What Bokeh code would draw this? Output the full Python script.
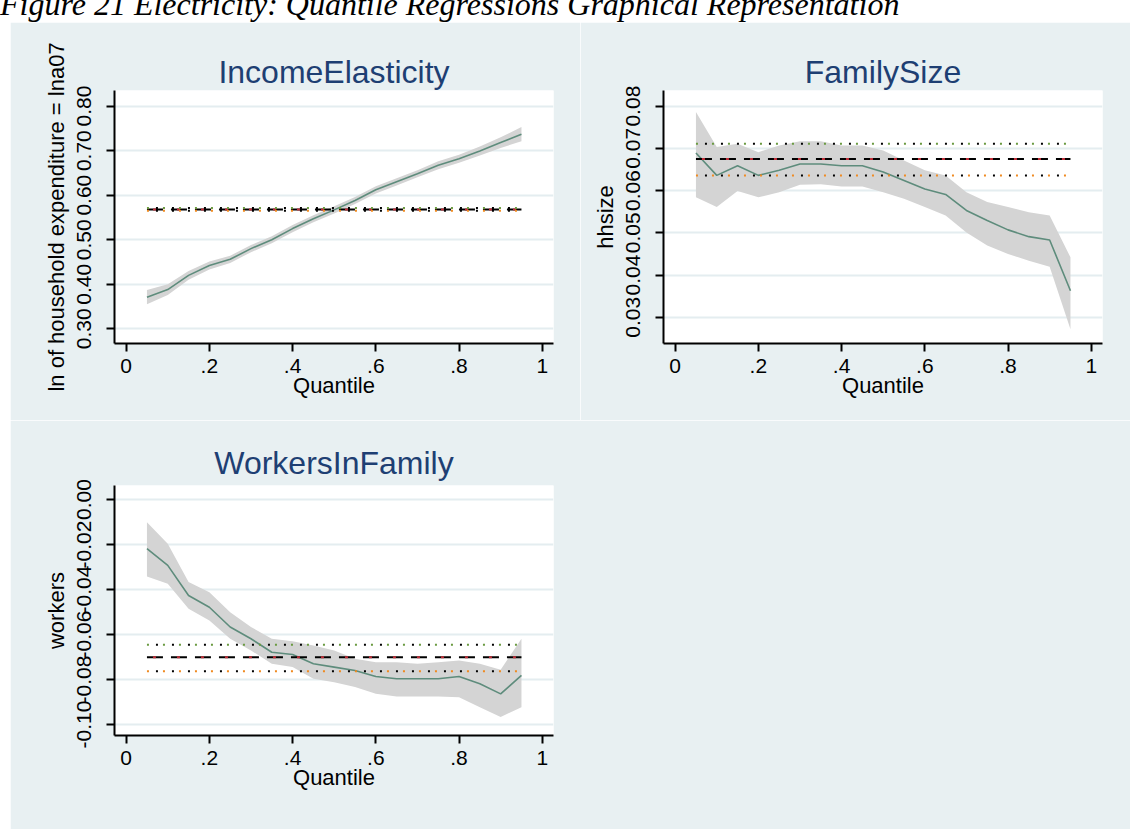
from bokeh.plotting import figure
from bokeh.layouts import column, row
from bokeh.models import Range1d, FixedTicker, Div, Spacer
from bokeh.embed import file_html
from bokeh.resources import INLINE

# ---------------- data ----------------
quantiles = [0.05, 0.10, 0.15, 0.20, 0.25, 0.30, 0.35, 0.40, 0.45, 0.50,
             0.55, 0.60, 0.65, 0.70, 0.75, 0.80, 0.85, 0.90, 0.95]

income_coef = [0.371, 0.388, 0.420, 0.442, 0.456, 0.480, 0.500, 0.525, 0.547, 0.567,
               0.588, 0.612, 0.630, 0.648, 0.667, 0.682, 0.699, 0.718, 0.737]
income_lo = [0.355, 0.376, 0.410, 0.433, 0.448, 0.472, 0.492, 0.517, 0.539, 0.559,
             0.580, 0.604, 0.622, 0.640, 0.658, 0.673, 0.689, 0.706, 0.721]
income_hi = [0.387, 0.400, 0.430, 0.451, 0.464, 0.488, 0.508, 0.533, 0.555, 0.575,
             0.596, 0.620, 0.638, 0.656, 0.676, 0.691, 0.709, 0.730, 0.753]
income_ols = [0.568, 0.565, 0.571]  # estimate, lower, upper

family_coef = [0.0689, 0.0636, 0.0659, 0.0636, 0.0648, 0.0663, 0.0663, 0.0659, 0.0659, 0.0644,
               0.0624, 0.0604, 0.0591, 0.0553, 0.0529, 0.0507, 0.0491, 0.0483, 0.0363]
family_lo = [0.0584, 0.0561, 0.0599, 0.0584, 0.0596, 0.0614, 0.0615, 0.0610, 0.0610, 0.0596,
             0.0581, 0.0561, 0.0541, 0.0501, 0.0470, 0.0450, 0.0434, 0.0420, 0.0272]
family_hi = [0.0786, 0.0703, 0.0711, 0.0691, 0.0707, 0.0717, 0.0717, 0.0707, 0.0707, 0.0695,
             0.0671, 0.0648, 0.0636, 0.0596, 0.0573, 0.0561, 0.0549, 0.0541, 0.0442]
family_ols = [0.0675, 0.0636, 0.0711]

workers_coef = [-0.0219, -0.0293, -0.0427, -0.0479, -0.0567, -0.0619, -0.0679, -0.0689, -0.0730, -0.0745,
                -0.0760, -0.0787, -0.0797, -0.0797, -0.0797, -0.0787, -0.0819, -0.0864, -0.0782]
workers_lo = [-0.0342, -0.0375, -0.0486, -0.0538, -0.0619, -0.0671, -0.0730, -0.0745, -0.0797, -0.0812,
              -0.0834, -0.0864, -0.0876, -0.0876, -0.0876, -0.0879, -0.0923, -0.0967, -0.0923]
workers_hi = [-0.0101, -0.0197, -0.0367, -0.0412, -0.0501, -0.0567, -0.0619, -0.0630, -0.0649, -0.0671,
              -0.0708, -0.0723, -0.0723, -0.0730, -0.0723, -0.0716, -0.0730, -0.0757, -0.0619]
workers_ols = [-0.0701, -0.0763, -0.0646]

x_tick_values = [0, 0.2, 0.4, 0.6, 0.8, 1]
x_tick_labels = ["0", ".2", ".4", ".6", ".8", "1"]

income_ticks = [0.3, 0.4, 0.5, 0.6, 0.7, 0.8]
income_tick_labels = ["0.30", "0.40", "0.50", "0.60", "0.70", "0.80"]
family_ticks = [0.03, 0.04, 0.05, 0.06, 0.07, 0.08]
family_tick_labels = ["0.03", "0.04", "0.05", "0.06", "0.07", "0.08"]
workers_ticks = [-0.10, -0.08, -0.06, -0.04, -0.02, 0.0]
workers_tick_labels = ["-0.10", "-0.08", "-0.06", "-0.04", "-0.02", "0.00"]

caption = "Figure 21 Electricity: Quantile Regressions Graphical Representation"

# ---------------- style ----------------
BG = "#e8f0f2"
GRID = "#e4edf0"
FONT = "Liberation Sans"
TITLE_COLOR = "#1e3f73"
LINE_COLOR = "#5e8c7c"
BAND_COLOR = "#d4d4d4"


def make_panel(title, ylabel, coef, lo, hi, ols, yrange, yticks, ylabels,
               width, height, ml, mr, mt, mb, title_raise):
    p = figure(width=width, height=height,
               x_range=Range1d(-0.028, 1.027), y_range=Range1d(*yrange),
               output_backend="svg", toolbar_location=None,
               min_border_left=ml, min_border_right=mr,
               min_border_top=mt, min_border_bottom=mb,
               background_fill_color="white", border_fill_color=BG,
               outline_line_color=None, title=title)
    p.title.align = "center"
    p.title.text_font = FONT
    p.title.text_font_size = "32px"
    p.title.text_font_style = "normal"
    p.title.text_color = TITLE_COLOR
    if title_raise:
        p.title.vertical_align = "top"
        p.title.standoff = title_raise
    else:
        p.title.standoff = 1

    # band + quantile coefficient line
    p.varea(x=quantiles, y1=lo, y2=hi, fill_color=BAND_COLOR, fill_alpha=1.0)
    p.line(quantiles, coef, line_color=LINE_COLOR, line_width=1.6)

    x0, x1 = quantiles[0], quantiles[-1]
    est, ci_lo, ci_hi = ols
    # OLS estimate: dashed line with red accents
    p.line([x0, x1], [est, est], line_color="black", line_width=2, line_dash="16 8")
    p.line([x0, x1], [est, est], line_color="#c0303a", line_width=2, line_dash="3 21",
           line_dash_offset=18)
    # OLS confidence bounds: dotted lines
    p.line([x0, x1], [ci_hi, ci_hi], line_color="#6a9a40", line_width=2, line_dash="2 14")
    p.line([x0, x1], [ci_hi, ci_hi], line_color="black", line_width=2, line_dash="2 14",
           line_dash_offset=7)
    p.line([x0, x1], [ci_lo, ci_lo], line_color="#f08a20", line_width=2, line_dash="2 14")
    p.line([x0, x1], [ci_lo, ci_lo], line_color="black", line_width=2, line_dash="2 14",
           line_dash_offset=7)

    p.xgrid.visible = False
    p.ygrid.ticker = FixedTicker(ticks=yticks)
    p.ygrid.grid_line_color = GRID
    p.ygrid.grid_line_width = 2

    for ax in (p.xaxis[0], p.yaxis[0]):
        ax.axis_line_width = 2
        ax.axis_line_color = "black"
        ax.major_tick_line_width = 2
        ax.major_tick_line_color = "black"
        ax.major_tick_in = 0
        ax.major_tick_out = 8
        ax.minor_tick_line_color = None
        ax.major_label_text_font = FONT
        ax.major_label_text_font_size = "21px"
        ax.major_label_text_color = "black"
        ax.axis_label_text_font = FONT
        ax.axis_label_text_font_size = "22px"
        ax.axis_label_text_font_style = "normal"
        ax.axis_label_text_color = "black"

    xa = p.xaxis[0]
    xa.ticker = FixedTicker(ticks=x_tick_values)
    xa.major_label_overrides = dict(zip(x_tick_values, x_tick_labels))
    xa.axis_label = "Quantile"
    xa.major_label_standoff = 7
    xa.axis_label_standoff = -3

    ya = p.yaxis[0]
    ya.ticker = FixedTicker(ticks=yticks)
    ya.major_label_overrides = dict(zip(yticks, ylabels))
    ya.major_label_orientation = "vertical"
    ya.axis_label = ylabel
    ya.major_label_standoff = 15
    ya.axis_label_standoff = 6
    return p


# caption strip (top of the page, partly cut off as in the source)
cap = Div(text=('<div style="font-family: \'Liberation Serif\'; font-style: italic; '
                'font-size: 32px; line-height: 32px; margin-top: -12px; '
                'white-space: nowrap; color: black;">' + caption + '</div>'),
          width=1130, height=22, margin=0, styles={"overflow": "hidden"})

p1 = make_panel("IncomeElasticity", "ln of household expenditure = lna07",
                income_coef, income_lo, income_hi, income_ols,
                (0.267, 0.835), income_ticks, income_tick_labels,
                570, 398, 104, 27, 68, 77, 0)
p2 = make_panel("FamilySize", "hhsize",
                family_coef, family_lo, family_hi, family_ols,
                (0.0238, 0.0837), family_ticks, family_tick_labels,
                550, 398, 83, 28, 68, 77, 0)
p3 = make_panel("WorkersInFamily", "workers",
                workers_coef, workers_lo, workers_hi, workers_ols,
                (-0.1049, 0.0062), workers_ticks, workers_tick_labels,
                1120, 409, 104, 577, 65, 94, 5)

layout = column(cap, row(Spacer(width=10, height=398), p1, p2),
                row(Spacer(width=10, height=409), p3))
open("out.html", "w").write(file_html(layout, INLINE))
